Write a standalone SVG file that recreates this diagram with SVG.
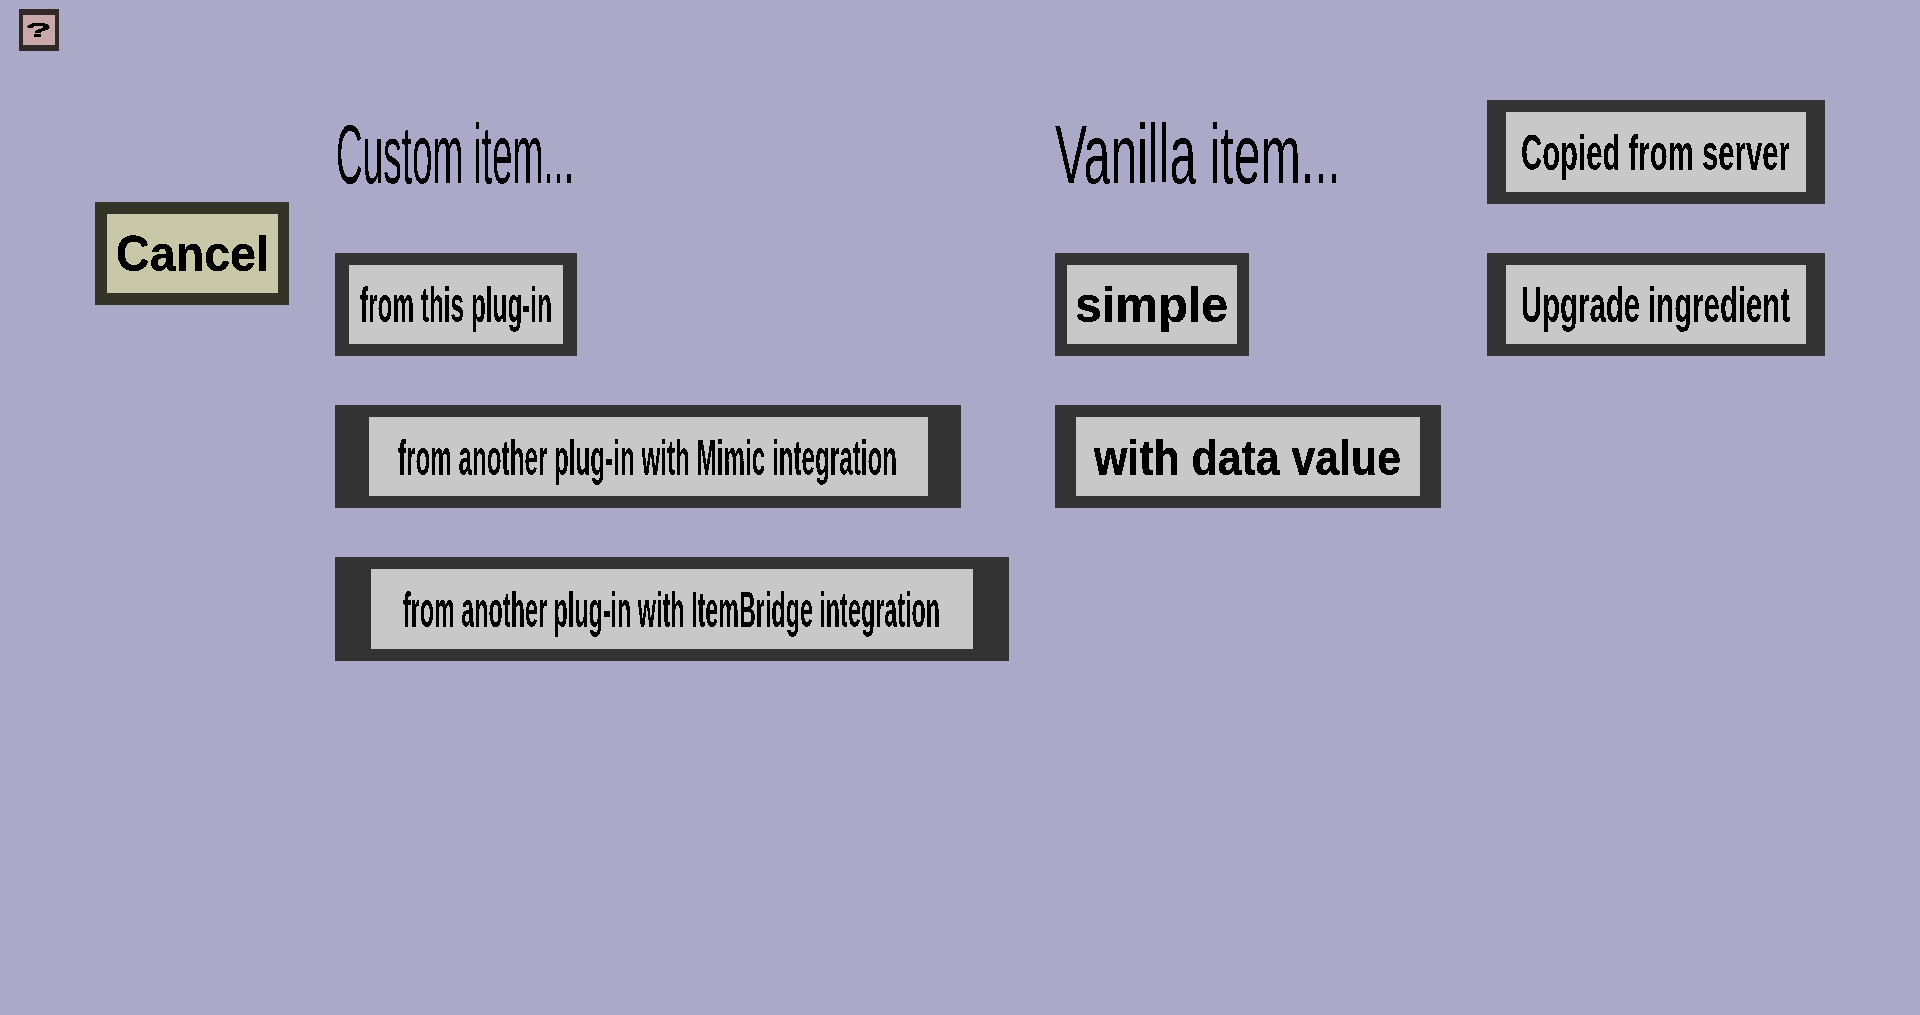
<svg xmlns="http://www.w3.org/2000/svg" width="1920" height="1015" viewBox="0 0 1920 1015">
<style>
rect{shape-rendering:crispEdges}
.o{fill:#333333}
.i{fill:#c8c8c8}
text{font-family:"Liberation Sans",Arial,sans-serif;fill:#000;filter:url(#hard)}
.b{font-weight:bold;font-size:30px;filter:url(#mid)}
.w{font-weight:bold;font-size:40px}
.h{font-size:50px;filter:url(#mid)}
</style>
<defs>
<filter id="hard" x="-10%" y="-20%" width="120%" height="140%" color-interpolation-filters="sRGB">
<feComponentTransfer><feFuncA type="discrete" tableValues="0 1 1 1"/></feComponentTransfer>
</filter>
<filter id="mid" x="-10%" y="-20%" width="120%" height="140%" color-interpolation-filters="sRGB">
<feComponentTransfer><feFuncA type="discrete" tableValues="0 1"/></feComponentTransfer>
</filter>
</defs>
<rect id="background" width="1920" height="1015" fill="#aaa9c8"/>
<g id="connectors"/>
<g id="help"><rect x="19" y="9" width="40" height="42" fill="#332828"/><rect x="23" y="15" width="32" height="30" fill="#c8a8a8"/><text style="font-weight:bold;font-size:20px" x="25" y="37" textLength="27" lengthAdjust="spacingAndGlyphs">?</text></g>
<g id="cancel"><rect x="95" y="202" width="194" height="103" fill="#333328"/><rect x="107" y="214" width="171" height="79" fill="#c8c8a8"/><text class="w" transform="translate(116,271) scale(1,1.25)" textLength="153" lengthAdjust="spacingAndGlyphs">Cancel</text></g>
<text id="custom-heading" class="h" transform="translate(336,183) scale(1,1.68)" textLength="238" lengthAdjust="spacingAndGlyphs">Custom item...</text>
<g id="this-plugin"><rect class="o" x="335" y="253" width="242" height="103"/><rect class="i" x="349" y="265" width="214" height="79"/><text class="b" transform="translate(360,322) scale(1,1.667)" textLength="192" lengthAdjust="spacingAndGlyphs">from this plug-in</text></g>
<g id="mimic"><rect class="o" x="335" y="405" width="626" height="103"/><rect class="i" x="369" y="417" width="559" height="79"/><text class="b" transform="translate(398,475) scale(1,1.667)" textLength="499" lengthAdjust="spacingAndGlyphs">from another plug-in with Mimic integration</text></g>
<g id="itembridge"><rect class="o" x="335" y="557" width="674" height="104"/><rect class="i" x="371" y="569" width="602" height="80"/><text class="b" transform="translate(403,627) scale(1,1.667)" textLength="537" lengthAdjust="spacingAndGlyphs">from another plug-in with ItemBridge integration</text></g>
<text id="vanilla-heading" class="h" transform="translate(1055,183) scale(1,1.68)" textLength="286" lengthAdjust="spacingAndGlyphs">Vanilla item...</text>
<g id="simple"><rect class="o" x="1055" y="253" width="194" height="103"/><rect class="i" x="1067" y="265" width="170" height="79"/><text class="w" transform="translate(1075,322) scale(1,1.25)" textLength="153" lengthAdjust="spacingAndGlyphs">simple</text></g>
<g id="data-value"><rect class="o" x="1055" y="405" width="386" height="103"/><rect class="i" x="1076" y="417" width="344" height="79"/><text class="w" transform="translate(1094,475) scale(1,1.25)" textLength="307" lengthAdjust="spacingAndGlyphs">with data value</text></g>
<g id="copied"><rect class="o" x="1487" y="100" width="338" height="104"/><rect class="i" x="1506" y="112" width="300" height="80"/><text class="b" transform="translate(1521,170) scale(1,1.667)" textLength="269" lengthAdjust="spacingAndGlyphs">Copied from server</text></g>
<g id="upgrade"><rect class="o" x="1487" y="253" width="338" height="103"/><rect class="i" x="1506" y="265" width="300" height="79"/><text class="b" transform="translate(1521,322) scale(1,1.667)" textLength="269" lengthAdjust="spacingAndGlyphs">Upgrade ingredient</text></g>
</svg>
